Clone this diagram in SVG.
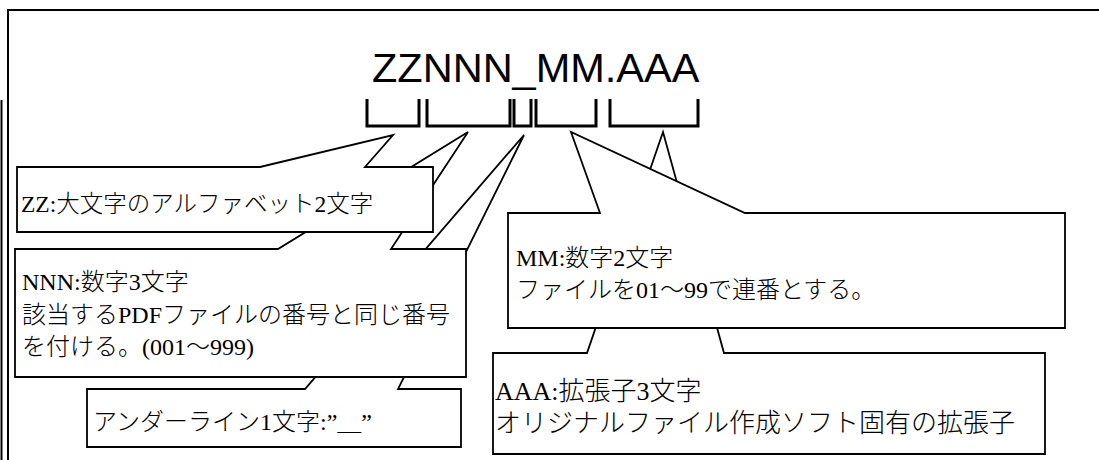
<svg xmlns="http://www.w3.org/2000/svg" width="1099" height="460" viewBox="0 0 1099 460">
<style>
.frame{fill:none;stroke:#000;stroke-width:2}
.bracket{fill:none;stroke:#000;stroke-width:3;stroke-linejoin:miter;stroke-linecap:butt}
.callout{fill:#fff;stroke:#000;stroke-width:1.8;stroke-linejoin:miter}
.title{font-family:"Liberation Sans",Arial,sans-serif;font-size:41.5px;fill:#000}
.t{font-family:"Liberation Serif","Noto Sans CJK JP",serif;font-size:24px;font-weight:300;fill:#000}
</style>
<rect width="1099" height="460" fill="#fff"/>
<g id="frame">
<path class="frame" d="M8,460 L8,10 L1099,10"/>
<path class="frame" d="M1.5,100 L1.5,460" stroke-width="1.5"/>
</g>
<g id="title">
<text class="title" x="372" y="82">ZZNNN_MM.AAA</text>
</g>
<g id="brackets">
<path class="bracket" d="M367,99 L367,126 L419,126 L419,99"/>
<path class="bracket" d="M427,99 L427,126 L510,126 L510,99"/>
<path class="bracket" d="M514,99 L514,126 L531,126 L531,99"/>
<path class="bracket" d="M536,99 L536,126 L596,126 L596,99"/>
<path class="bracket" d="M610,99 L610,126 L698,126 L698,99"/>
</g>
<g id="connectors"></g>
<g id="node-aaa">
<path class="callout" d="M493,353 L587,353 L663,132 L724,353 L1045,353 L1045,454 L493,454 Z"/>
<text class="t" x="495" y="400" style="font-size:26px">AAA:拡張子3文字</text>
<text class="t" x="495" y="432" style="font-size:26px">オリジナルファイル作成ソフト固有の拡張子</text>
</g>
<g id="node-mm">
<path class="callout" d="M508,213 L600,213 L571,132 L745,213 L1065,213 L1065,328 L508,328 Z"/>
<text class="t" x="516" y="266">MM:数字2文字</text>
<text class="t" x="516" y="298">ファイルを01～99で連番とする。</text>
</g>
<g id="node-underline">
<path class="callout" d="M87,389 L305,389 L524,135 L398,389 L461,389 L461,447 L87,447 Z"/>
<text class="t" x="93" y="430">アンダーライン1文字:”＿”</text>
</g>
<g id="node-nnn">
<path class="callout" d="M15,249 L278,249 L468,132 L391,249 L466,249 L466,377 L15,377 Z"/>
<text class="t" x="22" y="290">NNN:数字3文字</text>
<text class="t" x="22" y="323">該当するPDFファイルの番号と同じ番号</text>
<text class="t" x="22" y="355">を付ける。(001～999)</text>
</g>
<g id="node-zz">
<path class="callout" d="M17,167 L260,167 L393,135 L365,167 L433,167 L433,232 L17,232 Z"/>
<text class="t" x="21" y="212" style="font-size:23.5px">ZZ:大文字のアルファベット2文字</text>
</g>
</svg>
